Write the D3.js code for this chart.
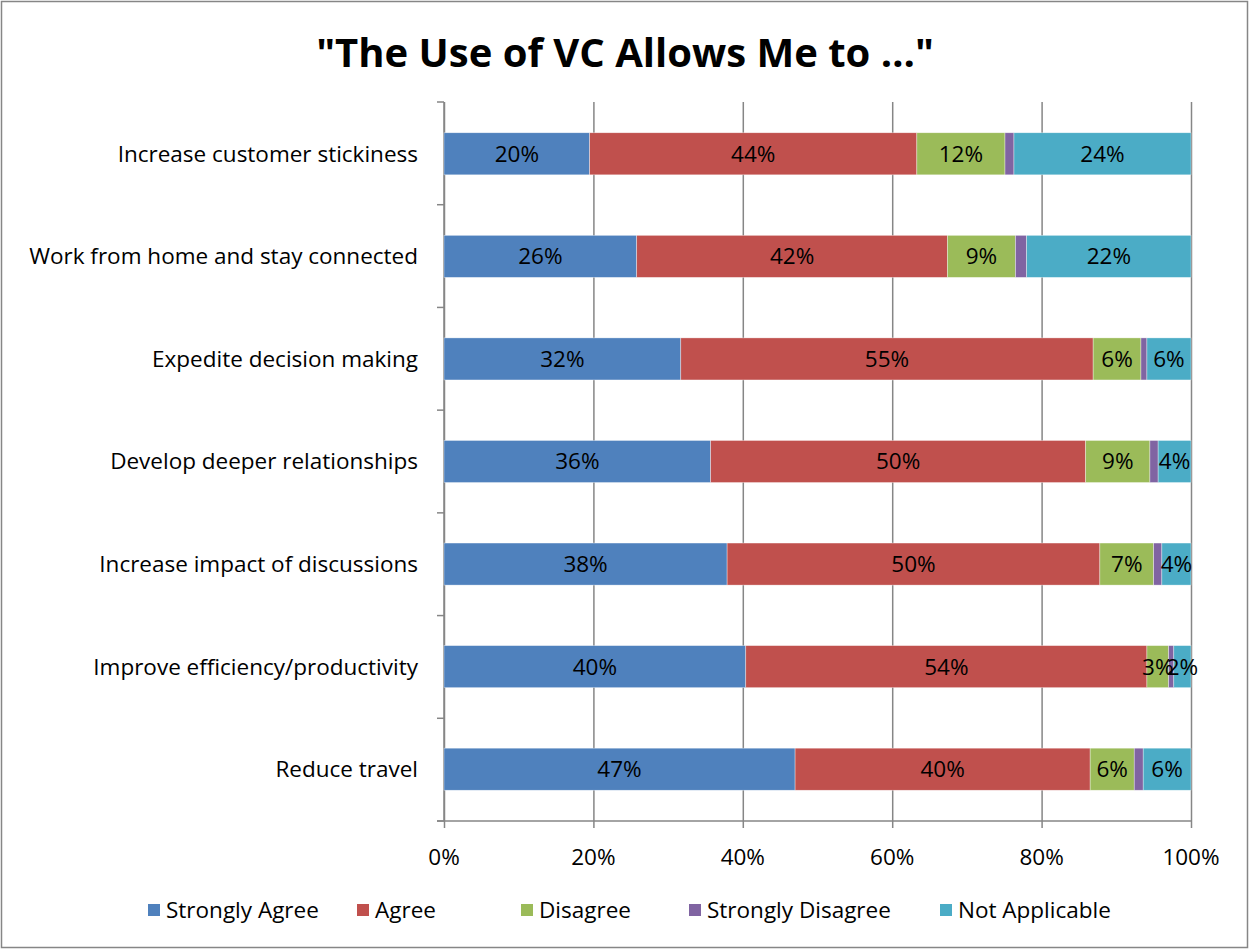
<!DOCTYPE html>
<html>
<head>
<meta charset="utf-8">
<script src="https://cdn.jsdelivr.net/npm/d3@7"></script>
<style>
  body { margin: 0; background: #fff; }
  svg { display: block; }
</style>
</head>
<body>
<svg id="chart" width="1250" height="951"></svg>
<script>
// categories top to bottom
const categories = [
    'Increase customer stickiness',
    'Work from home and stay connected',
    'Expedite decision making',
    'Develop deeper relationships',
    'Increase impact of discussions',
    'Improve efficiency/productivity',
    'Reduce travel'
];
const seriesNames = ['Strongly Agree', 'Agree', 'Disagree', 'Strongly Disagree', 'Not Applicable'];
const stronglyAgree = [19.5, 25.8, 31.7, 35.7, 37.9, 40.4, 47.0];
const agree = [43.8, 41.6, 55.2, 50.2, 49.9, 53.7, 39.5];
const disagree = [11.8, 9.1, 6.4, 8.6, 7.2, 2.9, 5.9];
const stronglyDisagree = [1.2, 1.5, 0.8, 1.1, 1.1, 0.7, 1.2];
const notApplicable = [23.7, 22.0, 5.9, 4.4, 3.9, 2.3, 6.4];
const xTicks = [0, 20, 40, 60, 80, 100];

const colors = ['#4F81BD', '#C0504D', '#9BBB59', '#8064A2', '#4BACC6'];
const font = '"Open Sans", sans-serif';
const fs = '22.5px';

const svg = d3.select('#chart');
const W = 1250, H = 951;
const plotLeft = 444, plotRight = 1191, plotTop = 102, plotBottom = 821;

// outer frame
svg.append('rect')
    .attr('x', 1.5).attr('y', 1.5)
    .attr('width', W - 4).attr('height', H - 5)
    .attr('fill', '#fff').attr('stroke', '#868686').attr('stroke-width', 1.5);

svg.append('text')
    .attr('x', 625).attr('y', 67)
    .attr('text-anchor', 'middle')
    .style('font-family', font).style('font-weight', 'bold').style('font-size', '40px')
    .text('"The Use of VC Allows Me to \u2026"');

const table = categories.map((c, i) => ({
    cat: c,
    'Strongly Agree': stronglyAgree[i],
    'Agree': agree[i],
    'Disagree': disagree[i],
    'Strongly Disagree': stronglyDisagree[i],
    'Not Applicable': notApplicable[i]
}));

const stacked = d3.stack().keys(seriesNames)(table);

const x = d3.scaleLinear().domain([0, 100]).range([plotLeft, plotRight]);
const y = d3.scaleBand().domain(categories).range([plotTop, plotBottom]).paddingInner(0.59).paddingOuter(0.3);

// gridlines
svg.append('g').selectAll('line')
    .data(xTicks)
    .join('line')
    .attr('x1', d => x(d) + 0.5).attr('x2', d => x(d) + 0.5)
    .attr('y1', plotTop).attr('y2', plotBottom + 7)
    .attr('stroke', '#868686').attr('stroke-width', 1.5);

// y axis ticks (between categories)
const yTicks = d3.range(categories.length + 1).map(i => plotTop + i * (plotBottom - plotTop) / categories.length);
svg.append('g').selectAll('line')
    .data(yTicks)
    .join('line')
    .attr('x1', plotLeft - 7).attr('x2', plotLeft)
    .attr('y1', d => d).attr('y2', d => d)
    .attr('stroke', '#868686').attr('stroke-width', 1.5);
svg.append('line')
    .attr('x1', plotLeft).attr('x2', plotLeft).attr('y1', plotTop).attr('y2', plotBottom)
    .attr('stroke', '#868686').attr('stroke-width', 1.5);
svg.append('line')
    .attr('x1', plotLeft - 7).attr('x2', plotRight).attr('y1', plotBottom).attr('y2', plotBottom)
    .attr('stroke', '#868686').attr('stroke-width', 1.5);

// bars
const groups = svg.append('g').selectAll('g')
    .data(stacked)
    .join('g')
    .attr('fill', (d, i) => colors[i]);

groups.selectAll('rect')
    .data(d => d)
    .join('rect')
    .attr('x', d => x(d[0]))
    .attr('y', d => y(d.data.cat))
    .attr('width', d => x(d[1]) - x(d[0]))
    .attr('height', y.bandwidth())
    .attr('stroke', '#fff').attr('stroke-width', 0.6).attr('stroke-opacity', 0.6);

// data labels (none on Strongly Disagree)
svg.append('g').selectAll('g')
    .data(stacked.filter(s => s.key !== 'Strongly Disagree'))
    .join('g')
    .selectAll('text')
    .data(d => d)
    .join('text')
    .attr('x', d => (x(d[0]) + x(d[1])) / 2)
    .attr('y', d => y(d.data.cat) + y.bandwidth() / 2)
    .attr('dy', '0.35em')
    .attr('text-anchor', 'middle')
    .style('font-family', font).style('font-size', fs)
    .text(d => Math.round(d[1] - d[0]) + '%');

// category labels
svg.append('g').selectAll('text')
    .data(categories)
    .join('text')
    .attr('x', 418)
    .attr('y', d => y(d) + y.bandwidth() / 2)
    .attr('dy', '0.35em')
    .attr('text-anchor', 'end')
    .style('font-family', font).style('font-size', fs)
    .text(d => d);

// x tick labels
svg.append('g').selectAll('text')
    .data(xTicks)
    .join('text')
    .attr('x', d => x(d))
    .attr('y', 857)
    .attr('dy', '0.35em')
    .attr('text-anchor', 'middle')
    .style('font-family', font).style('font-size', fs)
    .text(d => d + '%');

// legend
const legendX = [148, 357, 521, 689, 940];
const legend = svg.append('g').selectAll('g')
    .data(seriesNames)
    .join('g')
    .attr('transform', (d, i) => `translate(${legendX[i]},910)`);
legend.append('rect')
    .attr('x', 0).attr('y', -6).attr('width', 12).attr('height', 12)
    .attr('fill', (d, i) => colors[i]);
legend.append('text')
    .attr('x', 18).attr('y', 0).attr('dy', '0.35em')
    .style('font-family', font).style('font-size', fs)
    .text(d => d);
</script>
</body>
</html>
